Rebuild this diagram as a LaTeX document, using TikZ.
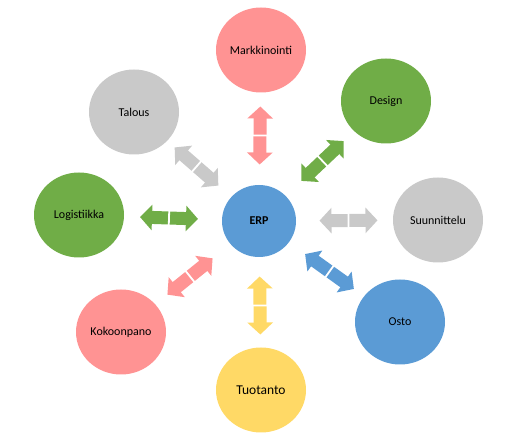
\documentclass[tikz,border=0pt]{standalone}
\usepackage{fontspec}
\setmainfont{Carlito}
\usetikzlibrary{shapes.geometric, arrows.meta, calc, decorations.markings}

\definecolor{rosa}{HTML}{FF9393}
\definecolor{harmaa}{HTML}{C9C9C9}
\definecolor{vihrea}{HTML}{70AD47}
\definecolor{sininen}{HTML}{5B9BD5}
\definecolor{keltainen}{HTML}{FFD966}

\begin{document}
\begin{tikzpicture}[
    x=1pt, y=-1pt,
    bubble/.style={ellipse, fill=#1, minimum width=90pt, minimum height=85pt, inner sep=0pt, font=\fontsize{12}{14}\selectfont},
    hub/.style={ellipse, fill=sininen, minimum width=74pt, minimum height=72pt, inner sep=0pt, font=\fontsize{12}{14}\selectfont\bfseries},
    line/.style={draw=#1, line width=13pt, {Triangle[width=25pt,length=12pt]}-{Triangle[width=25pt,length=12pt]},
        postaction={decorate}, decoration={markings, mark=at position 0.5 with {\fill[white] (-0.9pt,-9pt) rectangle (0.9pt,9pt);}}}
]
    \useasboundingbox (0,0) rectangle (520,446);

    % Nodes
    \node (erp) [hub] at (259,221) {ERP};
    \node (mark) [bubble=rosa] at (261,50) {Markkinointi};
    \node (design) [bubble=vihrea] at (386,101) {Design};
    \node (suunn) [bubble=harmaa] at (438,220) {Suunnittelu};
    \node (osto) [bubble=sininen] at (400,322) {Osto};
    \node (tuot) [bubble=keltainen, font=\fontsize{13.5}{16}\selectfont] at (261,390) {Tuotanto};
    \node (kokoon) [bubble=rosa] at (121,332) {Kokoonpano};
    \node (logist) [bubble=vihrea] at (79,215) {Logistiikka};
    \node (talous) [bubble=harmaa] at (134,112) {Talous};

    % Connections
    \draw [line=rosa] ($(erp)!0.5!(mark)!29pt!(erp)$) -- ($(erp)!0.5!(mark)!29pt!(mark)$);
    \draw [line=vihrea] ($(erp)!0.5!(design)!29pt!(erp)$) -- ($(erp)!0.5!(design)!29pt!(design)$);
    \draw [line=harmaa] ($(erp)!0.5!(suunn)!29pt!(erp)$) -- ($(erp)!0.5!(suunn)!29pt!(suunn)$);
    \draw [line=sininen] ($(erp)!0.5!(osto)!30pt!(erp)$) -- ($(erp)!0.5!(osto)!30pt!(osto)$);
    \draw [line=keltainen] ($(erp)!0.5!(tuot)!29pt!(erp)$) -- ($(erp)!0.5!(tuot)!29pt!(tuot)$);
    \draw [line=rosa] ($(erp)!0.5!(kokoon)!29pt!(erp)$) -- ($(erp)!0.5!(kokoon)!29pt!(kokoon)$);
    \draw [line=vihrea] ($(erp)!0.5!(logist)!29pt!(erp)$) -- ($(erp)!0.5!(logist)!29pt!(logist)$);
    \draw [line=harmaa] ($(erp)!0.5!(talous)!29pt!(erp)$) -- ($(erp)!0.5!(talous)!29pt!(talous)$);
\end{tikzpicture}
\end{document}
